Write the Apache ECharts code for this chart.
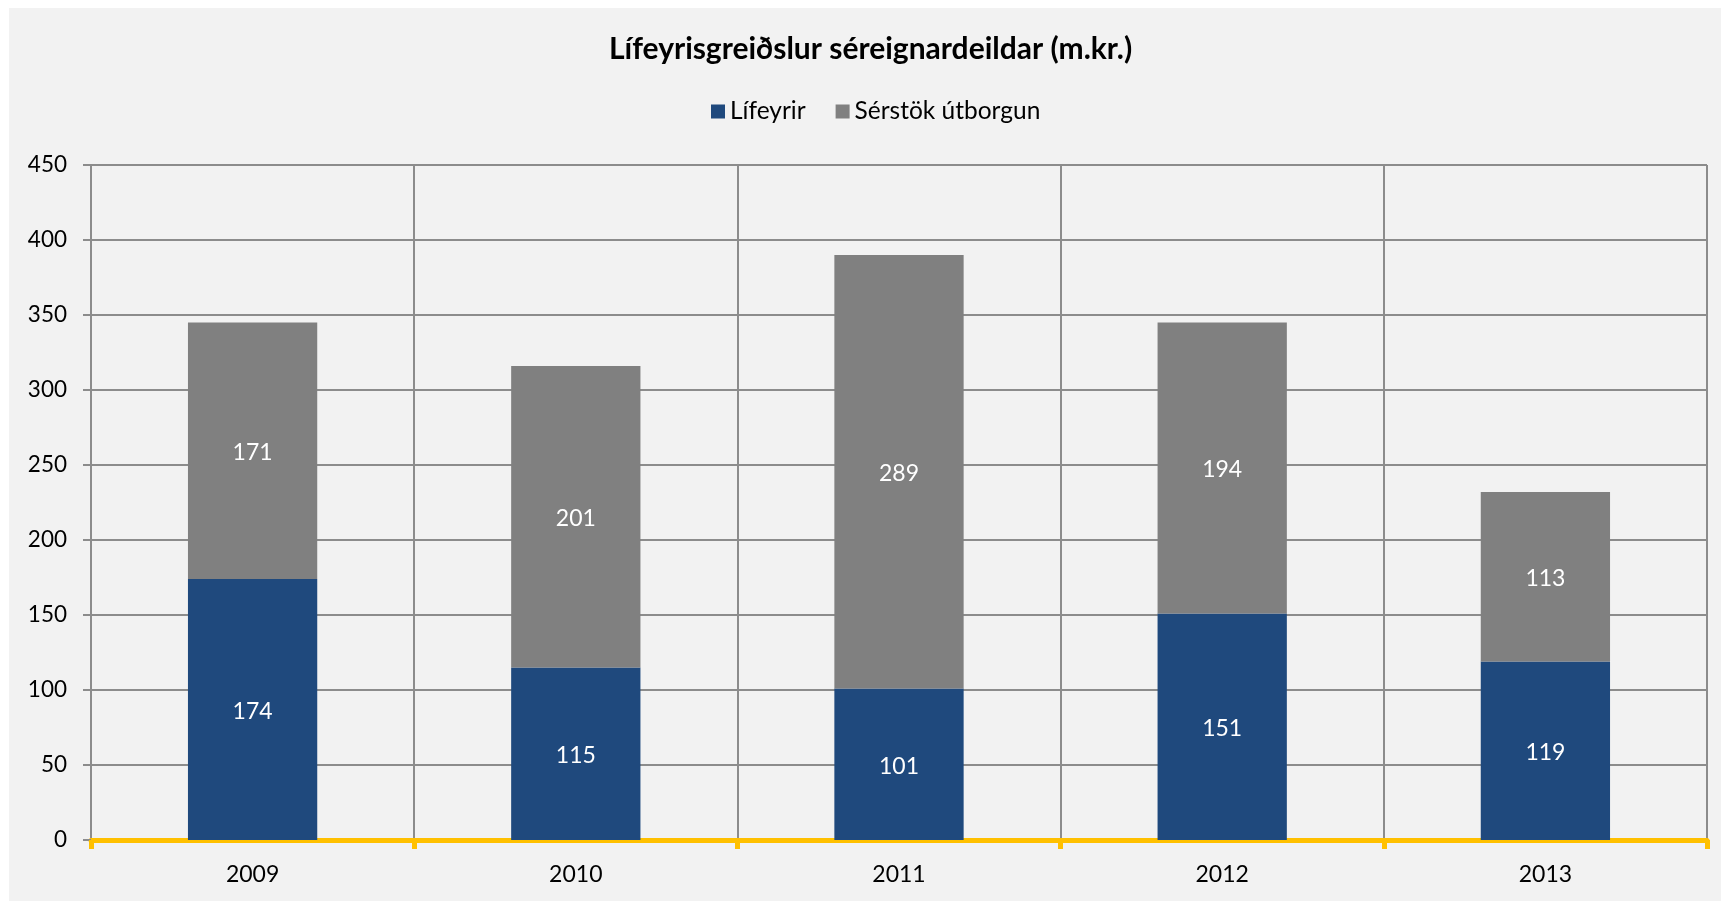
<!DOCTYPE html>
<html>
<head>
<meta charset="utf-8">
<script src="https://cdn.jsdelivr.net/npm/echarts@6/dist/echarts.min.js"></script>
<style>
  html, body {
    margin: 0;
    padding: 0;
    background: #fff;
  }
  #main {
    position: absolute;
    left: 9px;
    top: 8px;
    width: 1712px;
    height: 893px;
    background: #f2f2f2;
  }
</style>
</head>
<body>
<div id="main"></div>
<script>
// gögn lesin af myndinni
const years = ['2009', '2010', '2011', '2012', '2013'];
const lifeyrir = [174, 115, 101, 151, 119];
const serstok = [171, 201, 289, 194, 113];
const yTicks = { min: 0, max: 450, interval: 50 };

const font = 'Lato, "Open Sans", sans-serif';

let chart = echarts.init(document.getElementById('main'));
let option = {
  backgroundColor: '#f2f2f2',
  animation: false,
  textStyle: { fontFamily: font },
  title: {
    text: 'Lífeyrisgreiðslur séreignardeildar (m.kr.)',
    left: 595,
    top: 21,
    textStyle: { fontSize: 30, fontWeight: 'bold', color: '#000', fontFamily: font }
  },
  legend: {
    top: 86,
    left: 697,
    itemWidth: 14,
    itemHeight: 14,
    itemGap: 30,
    icon: 'rect',
    textStyle: { fontSize: 24.5, color: '#000', fontFamily: font }
  },
  grid: {
    left: 82,
    right: 14,
    top: 157,
    bottom: 61
  },
  xAxis: {
    type: 'category',
    data: years,
    axisLine: { lineStyle: { color: '#ffc000', width: 5 } },
    axisTick: { show: true, length: 9, lineStyle: { color: '#ffc000', width: 5 } },
    axisLabel: { fontSize: 23, color: '#000', margin: 23 },
    splitLine: { show: true, lineStyle: { color: '#8c8c8c', width: 2 } }
  },
  yAxis: {
    type: 'value',
    min: yTicks.min,
    max: yTicks.max,
    interval: yTicks.interval,
    axisLine: { show: true, lineStyle: { color: '#8c8c8c', width: 2 } },
    axisTick: { show: true, length: 8, lineStyle: { color: '#8c8c8c', width: 2 } },
    axisLabel: { fontSize: 22.5, color: '#000', margin: 24 },
    splitLine: { show: true, lineStyle: { color: '#8c8c8c', width: 2 } }
  },
  series: [
    {
      name: 'Lífeyrir',
      type: 'bar',
      stack: 'total',
      barWidth: '40%',
      data: lifeyrir,
      itemStyle: { color: '#1f497d' },
      label: { show: true, position: 'inside', color: '#fff', fontSize: 23, offset: [0, 2] }
    },
    {
      name: 'Sérstök útborgun',
      type: 'bar',
      stack: 'total',
      barWidth: '40%',
      data: serstok,
      itemStyle: { color: '#808080' },
      label: { show: true, position: 'inside', color: '#fff', fontSize: 23, offset: [0, 2] }
    }
  ]
};
chart.setOption(option);
</script>
</body>
</html>
